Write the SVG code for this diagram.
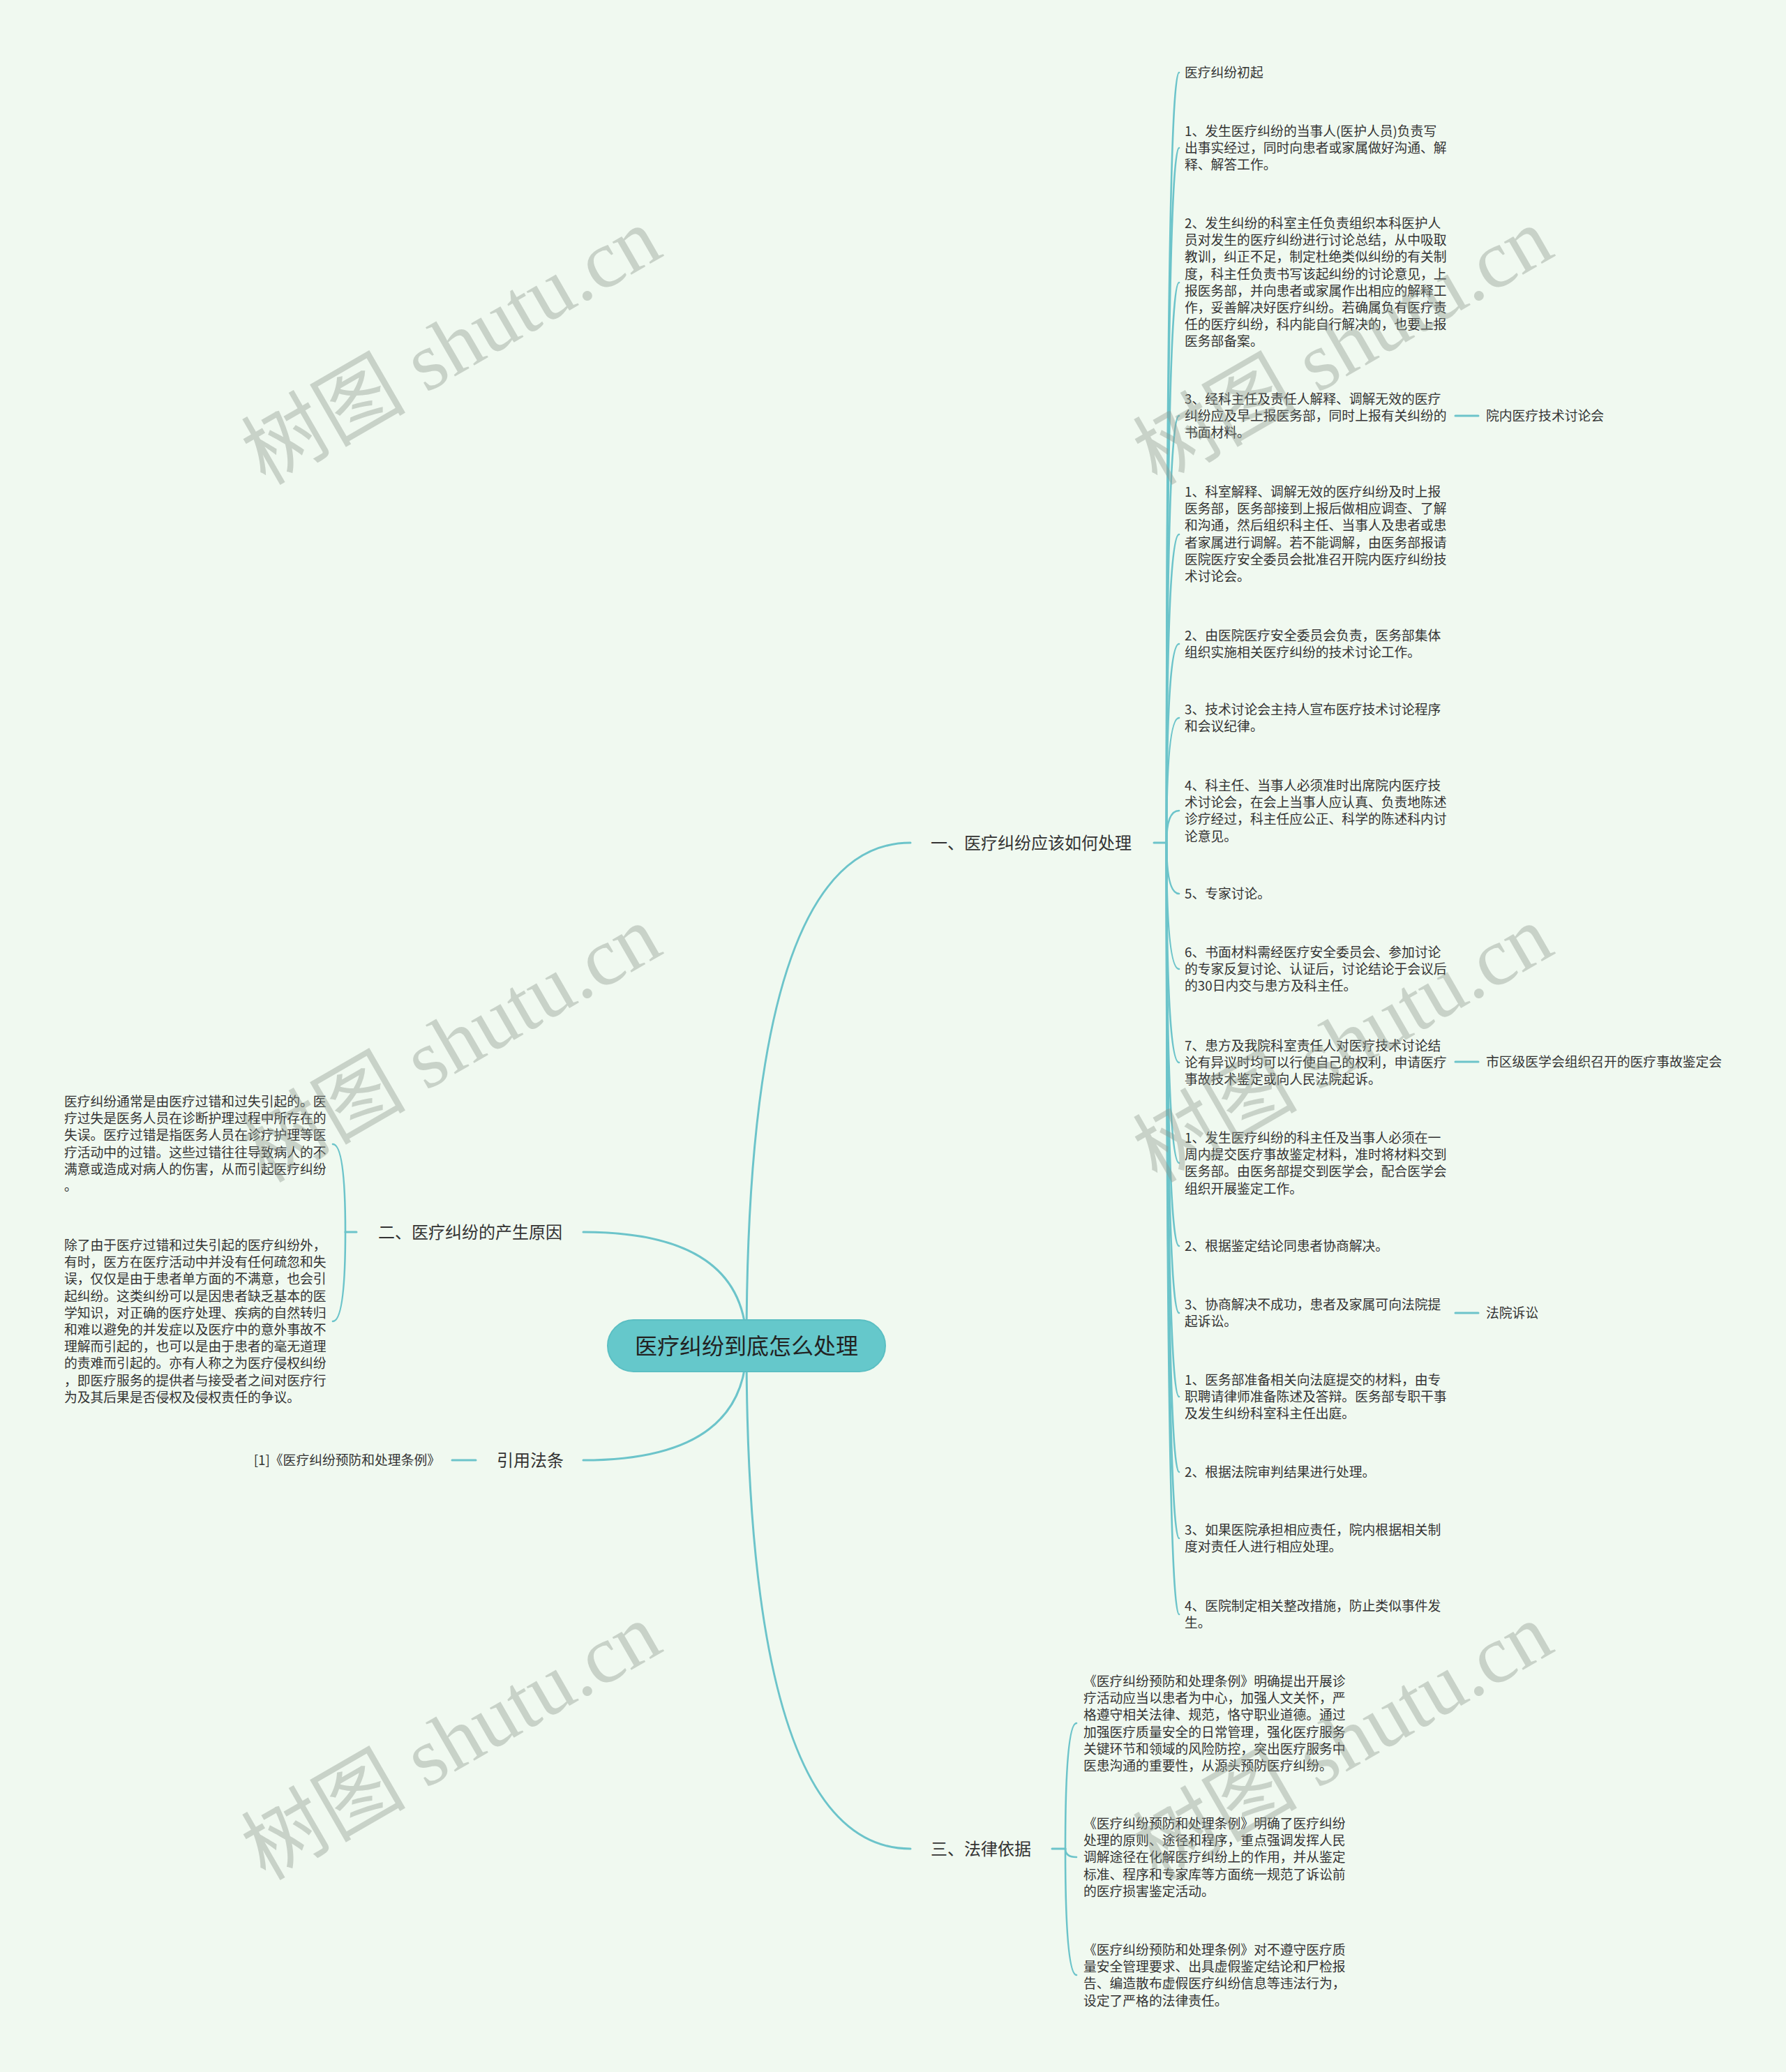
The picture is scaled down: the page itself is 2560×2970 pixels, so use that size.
<svg xmlns="http://www.w3.org/2000/svg" width="2560" height="2970" viewBox="0 0 2560 2970">
<style>
.bg{fill:#f0f9f0}
.ln{fill:none;stroke:#6cc4ca;stroke-width:3;stroke-linecap:round}
.cl{fill:none;stroke:#6cc4ca;stroke-width:2.6;stroke-linecap:round}
.t{font-family:"Noto Sans CJK SC","Noto Sans",sans-serif;font-size:18.8px;fill:#333}
.b{font-family:"Noto Sans CJK SC","Noto Sans",sans-serif;font-size:24px;fill:#333}
.root{fill:#65c8cb;stroke:#5bbfc3;stroke-width:2}
.rt{font-family:"Noto Sans CJK SC","Noto Sans",sans-serif;font-size:32px;fill:#222}
.wm{font-family:"Liberation Serif","Noto Sans CJK SC",serif;font-size:118px;fill:#8f998f;opacity:0.4}
</style>
<rect class="bg" x="0" y="0" width="2560" height="2970"/>

<g id="connectors">
  <path class="ln" d="M1070 1929 Q1070 1208 1305 1208"/>
  <path class="ln" d="M1070 1929 Q1070 2650 1305 2650"/>
  <path class="ln" d="M1070 1929 Q1070 1766 836 1766"/>
  <path class="ln" d="M1070 1929 Q1070 2093 836 2093"/>
  <path class="ln" d="M1654 1208 H1672"/>
  <path class="cl" d="M1672 1208 Q1672 104 1690 104"/>
  <path class="cl" d="M1672 1208 Q1672 212 1690 212"/>
  <path class="cl" d="M1672 1208 Q1672 405 1690 405"/>
  <path class="cl" d="M1672 1208 Q1672 596 1690 596"/>
  <path class="cl" d="M1672 1208 Q1672 766 1690 766"/>
  <path class="cl" d="M1672 1208 Q1672 923 1690 923"/>
  <path class="cl" d="M1672 1208 Q1672 1029 1690 1029"/>
  <path class="cl" d="M1672 1208 Q1672 1162 1690 1162"/>
  <path class="cl" d="M1672 1208 Q1672 1281 1690 1281"/>
  <path class="cl" d="M1672 1208 Q1672 1389 1690 1389"/>
  <path class="cl" d="M1672 1208 Q1672 1523 1690 1523"/>
  <path class="cl" d="M1672 1208 Q1672 1667 1690 1667"/>
  <path class="cl" d="M1672 1208 Q1672 1786 1690 1786"/>
  <path class="cl" d="M1672 1208 Q1672 1882 1690 1882"/>
  <path class="cl" d="M1672 1208 Q1672 2002 1690 2002"/>
  <path class="cl" d="M1672 1208 Q1672 2110 1690 2110"/>
  <path class="cl" d="M1672 1208 Q1672 2205 1690 2205"/>
  <path class="cl" d="M1672 1208 Q1672 2314 1690 2314"/>
  <path class="ln" d="M2086 596 H2119"/>
  <path class="ln" d="M2086 1522 H2119"/>
  <path class="ln" d="M2086 1882 H2119"/>
  <path class="ln" d="M1508 2650 H1527"/>
  <path class="cl" d="M1527 2650 Q1527 2470 1543 2470"/>
  <path class="cl" d="M1527 2650 Q1527 2662 1543 2662"/>
  <path class="cl" d="M1527 2650 Q1527 2831 1543 2831"/>
  <path class="ln" d="M511 1766 H495"/>
  <path class="cl" d="M495 1766 Q495 1640 477 1640"/>
  <path class="cl" d="M495 1766 Q495 1894 477 1894"/>
  <path class="ln" d="M682 2093 H648"/>
</g>

<g id="root">
  <rect class="root" x="871" y="1892" width="398" height="74" rx="37"/>
  <text class="rt" x="1070" y="1941" text-anchor="middle">医疗纠纷到底怎么处理</text>
</g>

<g id="branch1"><text class="b" x="1334" y="1217">一、医疗纠纷应该如何处理</text></g>
<g id="branch2"><text class="b" x="542" y="1775">二、医疗纠纷的产生原因</text></g>
<g id="branch3"><text class="b" x="1334" y="2659">三、法律依据</text></g>
<g id="branch4"><text class="b" x="712" y="2102">引用法条</text></g>

<g id="n1-0"><text class="t" x="1698" y="111">医疗纠纷初起</text></g>
<g id="n1-1"><text class="t" x="1698" y="195"><tspan x="1698">1、发生医疗纠纷的当事人(医护人员)负责写</tspan><tspan x="1698" dy="24.2">出事实经过，同时向患者或家属做好沟通、解</tspan><tspan x="1698" dy="24.2">释、解答工作。</tspan></text></g>
<g id="n1-2"><text class="t" x="1698" y="327"><tspan x="1698">2、发生纠纷的科室主任负责组织本科医护人</tspan><tspan x="1698" dy="24.2">员对发生的医疗纠纷进行讨论总结，从中吸取</tspan><tspan x="1698" dy="24.2">教训，纠正不足，制定杜绝类似纠纷的有关制</tspan><tspan x="1698" dy="24.2">度，科主任负责书写该起纠纷的讨论意见，上</tspan><tspan x="1698" dy="24.2">报医务部，并向患者或家属作出相应的解释工</tspan><tspan x="1698" dy="24.2">作，妥善解决好医疗纠纷。若确属负有医疗责</tspan><tspan x="1698" dy="24.2">任的医疗纠纷，科内能自行解决的，也要上报</tspan><tspan x="1698" dy="24.2">医务部备案。</tspan></text></g>
<g id="n1-3"><text class="t" x="1698" y="579"><tspan x="1698">3、经科主任及责任人解释、调解无效的医疗</tspan><tspan x="1698" dy="24.2">纠纷应及早上报医务部，同时上报有关纠纷的</tspan><tspan x="1698" dy="24.2">书面材料。</tspan></text></g>
<g id="n1-3a"><text class="t" x="2130" y="603">院内医疗技术讨论会</text></g>
<g id="n1-4"><text class="t" x="1698" y="712"><tspan x="1698">1、科室解释、调解无效的医疗纠纷及时上报</tspan><tspan x="1698" dy="24.2">医务部，医务部接到上报后做相应调查、了解</tspan><tspan x="1698" dy="24.2">和沟通，然后组织科主任、当事人及患者或患</tspan><tspan x="1698" dy="24.2">者家属进行调解。若不能调解，由医务部报请</tspan><tspan x="1698" dy="24.2">医院医疗安全委员会批准召开院内医疗纠纷技</tspan><tspan x="1698" dy="24.2">术讨论会。</tspan></text></g>
<g id="n1-5"><text class="t" x="1698" y="918"><tspan x="1698">2、由医院医疗安全委员会负责，医务部集体</tspan><tspan x="1698" dy="24.2">组织实施相关医疗纠纷的技术讨论工作。</tspan></text></g>
<g id="n1-6"><text class="t" x="1698" y="1024"><tspan x="1698">3、技术讨论会主持人宣布医疗技术讨论程序</tspan><tspan x="1698" dy="24.2">和会议纪律。</tspan></text></g>
<g id="n1-7"><text class="t" x="1698" y="1133"><tspan x="1698">4、科主任、当事人必须准时出席院内医疗技</tspan><tspan x="1698" dy="24.2">术讨论会，在会上当事人应认真、负责地陈述</tspan><tspan x="1698" dy="24.2">诊疗经过，科主任应公正、科学的陈述科内讨</tspan><tspan x="1698" dy="24.2">论意见。</tspan></text></g>
<g id="n1-8"><text class="t" x="1698" y="1288">5、专家讨论。</text></g>
<g id="n1-9"><text class="t" x="1698" y="1372"><tspan x="1698">6、书面材料需经医疗安全委员会、参加讨论</tspan><tspan x="1698" dy="24.2">的专家反复讨论、认证后，讨论结论于会议后</tspan><tspan x="1698" dy="24.2">的30日内交与患方及科主任。</tspan></text></g>
<g id="n1-10"><text class="t" x="1698" y="1506"><tspan x="1698">7、患方及我院科室责任人对医疗技术讨论结</tspan><tspan x="1698" dy="24.2">论有异议时均可以行使自己的权利，申请医疗</tspan><tspan x="1698" dy="24.2">事故技术鉴定或向人民法院起诉。</tspan></text></g>
<g id="n1-10a"><text class="t" x="2130" y="1529">市区级医学会组织召开的医疗事故鉴定会</text></g>
<g id="n1-11"><text class="t" x="1698" y="1638"><tspan x="1698">1、发生医疗纠纷的科主任及当事人必须在一</tspan><tspan x="1698" dy="24.2">周内提交医疗事故鉴定材料，准时将材料交到</tspan><tspan x="1698" dy="24.2">医务部。由医务部提交到医学会，配合医学会</tspan><tspan x="1698" dy="24.2">组织开展鉴定工作。</tspan></text></g>
<g id="n1-12"><text class="t" x="1698" y="1793">2、根据鉴定结论同患者协商解决。</text></g>
<g id="n1-13"><text class="t" x="1698" y="1877"><tspan x="1698">3、协商解决不成功，患者及家属可向法院提</tspan><tspan x="1698" dy="24.2">起诉讼。</tspan></text></g>
<g id="n1-13a"><text class="t" x="2130" y="1889">法院诉讼</text></g>
<g id="n1-14"><text class="t" x="1698" y="1985"><tspan x="1698">1、医务部准备相关向法庭提交的材料，由专</tspan><tspan x="1698" dy="24.2">职聘请律师准备陈述及答辩。医务部专职干事</tspan><tspan x="1698" dy="24.2">及发生纠纷科室科主任出庭。</tspan></text></g>
<g id="n1-15"><text class="t" x="1698" y="2117">2、根据法院审判结果进行处理。</text></g>
<g id="n1-16"><text class="t" x="1698" y="2200"><tspan x="1698">3、如果医院承担相应责任，院内根据相关制</tspan><tspan x="1698" dy="24.2">度对责任人进行相应处理。</tspan></text></g>
<g id="n1-17"><text class="t" x="1698" y="2309"><tspan x="1698">4、医院制定相关整改措施，防止类似事件发</tspan><tspan x="1698" dy="24.2">生。</tspan></text></g>

<g id="n2-0"><text class="t" x="92" y="1586"><tspan x="92">医疗纠纷通常是由医疗过错和过失引起的。医</tspan><tspan x="92" dy="24.2">疗过失是医务人员在诊断护理过程中所存在的</tspan><tspan x="92" dy="24.2">失误。医疗过错是指医务人员在诊疗护理等医</tspan><tspan x="92" dy="24.2">疗活动中的过错。这些过错往往导致病人的不</tspan><tspan x="92" dy="24.2">满意或造成对病人的伤害，从而引起医疗纠纷</tspan><tspan x="92" dy="24.2">。</tspan></text></g>
<g id="n2-1"><text class="t" x="92" y="1792"><tspan x="92">除了由于医疗过错和过失引起的医疗纠纷外，</tspan><tspan x="92" dy="24.2">有时，医方在医疗活动中并没有任何疏忽和失</tspan><tspan x="92" dy="24.2">误，仅仅是由于患者单方面的不满意，也会引</tspan><tspan x="92" dy="24.2">起纠纷。这类纠纷可以是因患者缺乏基本的医</tspan><tspan x="92" dy="24.2">学知识，对正确的医疗处理、疾病的自然转归</tspan><tspan x="92" dy="24.2">和难以避免的并发症以及医疗中的意外事故不</tspan><tspan x="92" dy="24.2">理解而引起的，也可以是由于患者的毫无道理</tspan><tspan x="92" dy="24.2">的责难而引起的。亦有人称之为医疗侵权纠纷</tspan><tspan x="92" dy="24.2">，即医疗服务的提供者与接受者之间对医疗行</tspan><tspan x="92" dy="24.2">为及其后果是否侵权及侵权责任的争议。</tspan></text></g>

<g id="n4-0"><text class="t" x="631" y="2100" text-anchor="end">[1]《医疗纠纷预防和处理条例》</text></g>

<g id="n3-0"><text class="t" x="1553" y="2417"><tspan x="1553">《医疗纠纷预防和处理条例》明确提出开展诊</tspan><tspan x="1553" dy="24.2">疗活动应当以患者为中心，加强人文关怀，严</tspan><tspan x="1553" dy="24.2">格遵守相关法律、规范，恪守职业道德。通过</tspan><tspan x="1553" dy="24.2">加强医疗质量安全的日常管理，强化医疗服务</tspan><tspan x="1553" dy="24.2">关键环节和领域的风险防控，突出医疗服务中</tspan><tspan x="1553" dy="24.2">医患沟通的重要性，从源头预防医疗纠纷。</tspan></text></g>
<g id="n3-1"><text class="t" x="1553" y="2621"><tspan x="1553">《医疗纠纷预防和处理条例》明确了医疗纠纷</tspan><tspan x="1553" dy="24.2">处理的原则、途径和程序，重点强调发挥人民</tspan><tspan x="1553" dy="24.2">调解途径在化解医疗纠纷上的作用，并从鉴定</tspan><tspan x="1553" dy="24.2">标准、程序和专家库等方面统一规范了诉讼前</tspan><tspan x="1553" dy="24.2">的医疗损害鉴定活动。</tspan></text></g>
<g id="n3-2"><text class="t" x="1553" y="2802"><tspan x="1553">《医疗纠纷预防和处理条例》对不遵守医疗质</tspan><tspan x="1553" dy="24.2">量安全管理要求、出具虚假鉴定结论和尸检报</tspan><tspan x="1553" dy="24.2">告、编造散布虚假医疗纠纷信息等违法行为，</tspan><tspan x="1553" dy="24.2">设定了严格的法律责任。</tspan></text></g>

<g id="watermarks">
  <text class="wm" text-anchor="middle" transform="translate(667 531) rotate(-30)">树图 shutu.cn</text>
  <text class="wm" text-anchor="middle" transform="translate(1945 531) rotate(-30)">树图 shutu.cn</text>
  <text class="wm" text-anchor="middle" transform="translate(667 1531) rotate(-30)">树图 shutu.cn</text>
  <text class="wm" text-anchor="middle" transform="translate(1945 1531) rotate(-30)">树图 shutu.cn</text>
  <text class="wm" text-anchor="middle" transform="translate(667 2531) rotate(-30)">树图 shutu.cn</text>
  <text class="wm" text-anchor="middle" transform="translate(1945 2531) rotate(-30)">树图 shutu.cn</text>
</g>
</svg>
